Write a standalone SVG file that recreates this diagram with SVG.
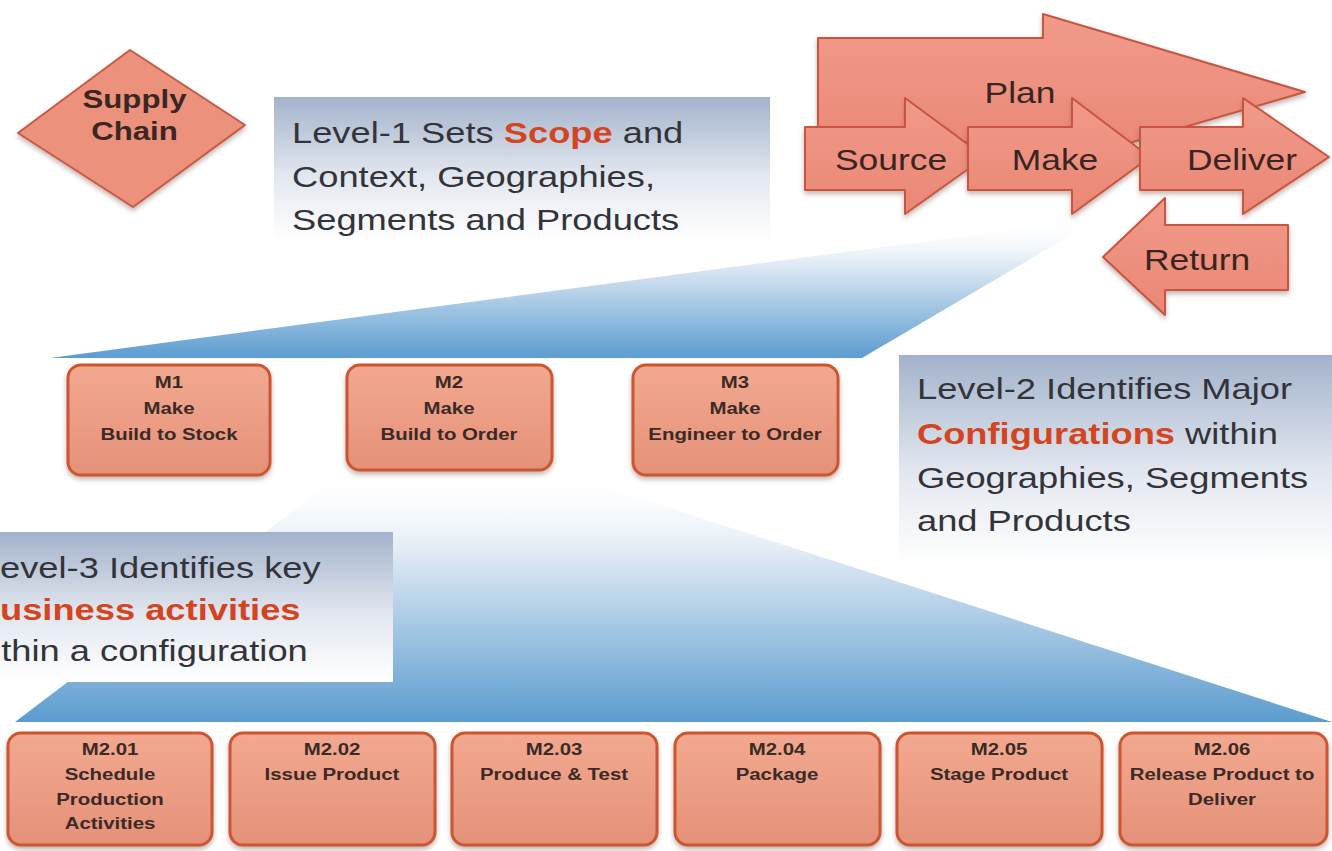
<svg xmlns="http://www.w3.org/2000/svg" width="1332" height="851" viewBox="0 0 1332 851">
<defs>
<linearGradient id="wedge" x1="0" y1="0" x2="0" y2="1">
<stop offset="0" stop-color="#ffffff" stop-opacity="0"/>
<stop offset="0.35" stop-color="#dbe7f3"/>
<stop offset="1" stop-color="#5b9ccf"/>
</linearGradient>
<linearGradient id="note" x1="0" y1="0" x2="0" y2="1">
<stop offset="0" stop-color="#a3b2cb"/>
<stop offset="0.55" stop-color="#e2e7ef"/>
<stop offset="1" stop-color="#ffffff"/>
</linearGradient>
<linearGradient id="box" x1="0" y1="0" x2="0" y2="1">
<stop offset="0" stop-color="#f2a98f"/>
<stop offset="1" stop-color="#e5917a"/>
</linearGradient>
<linearGradient id="arr" x1="0" y1="0" x2="0" y2="1">
<stop offset="0" stop-color="#f19a8a"/>
<stop offset="1" stop-color="#ea8775"/>
</linearGradient>
<filter id="sh" x="-10%" y="-10%" width="120%" height="130%">
<feDropShadow dx="0" dy="3" stdDeviation="2.5" flood-color="#7a5a50" flood-opacity="0.45"/>
</filter>
<style>
.box{fill:url(#box);stroke:#cc5530;stroke-width:3;filter:url(#sh)}
.arrow{fill:url(#arr);stroke:#c9553f;stroke-width:2;stroke-linejoin:round;filter:url(#sh)}
.bt{font-family:"Liberation Sans",Arial,sans-serif;font-weight:bold;font-size:17px;fill:#3b2a26;text-anchor:middle}
.big{font-family:"Liberation Sans",Arial,sans-serif;font-size:30px;fill:#33343a}
.at{font-family:"Liberation Sans",Arial,sans-serif;font-size:30px;fill:#3a2522;text-anchor:middle}
.hl{font-weight:bold;fill:#d4451f}
.sc{font-family:"Liberation Sans",Arial,sans-serif;font-weight:bold;font-size:26px;fill:#3a2622;text-anchor:middle}
</style>
</defs>
<rect width="1332" height="851" fill="#ffffff"/>

<g id="wedges">
<polygon points="50,358 1100,218 862,358" fill="url(#wedge)"/>
<polygon points="347,470 552,470 1332,722 15,722" fill="url(#wedge)"/>
</g>

<g id="supply-chain">
<polygon points="130,50 245,125 133,207 18,133" fill="#ec917c" stroke="#c65a44" stroke-width="2" stroke-linejoin="round" filter="url(#sh)"/>
<g transform="translate(134.5,0) scale(1.2,1)">
<text class="sc" x="0" y="108">Supply</text>
<text class="sc" x="0" y="140">Chain</text>
</g>
</g>

<g id="level1-note">
<rect x="274" y="97" width="496" height="143" fill="url(#note)"/>
<g transform="translate(292,0) scale(1.21,1)">
<text class="big" x="0" y="143">Level-1 Sets <tspan class="hl">Scope</tspan> and</text>
<text class="big" x="0" y="187">Context, Geographies,</text>
<text class="big" x="0" y="230">Segments and Products</text>
</g>
</g>

<g id="plan">
<polygon class="arrow" points="818,38 1043,38 1043,14 1305,92 1043,168 1043,142 818,142"/>
<g transform="translate(1020,0) scale(1.18,1)"><text class="at" x="0" y="103">Plan</text></g>
</g>
<g id="source">
<polygon class="arrow" points="805,127 905,127 905,98 985,157 905,214 905,190 805,190"/>
<g transform="translate(891,0) scale(1.18,1)"><text class="at" x="0" y="170">Source</text></g>
</g>
<g id="make">
<polygon class="arrow" points="968,127 1072,127 1072,98 1150,157 1072,214 1072,190 968,190"/>
<g transform="translate(1055,0) scale(1.18,1)"><text class="at" x="0" y="170">Make</text></g>
</g>
<g id="deliver">
<polygon class="arrow" points="1140,127 1243,127 1243,98 1329,157 1243,214 1243,190 1140,190"/>
<g transform="translate(1242,0) scale(1.18,1)"><text class="at" x="0" y="170">Deliver</text></g>
</g>
<g id="return">
<polygon class="arrow" points="1288,225 1165,225 1165,198 1103,257 1165,315 1165,290 1288,290"/>
<g transform="translate(1197,0) scale(1.18,1)"><text class="at" x="0" y="270">Return</text></g>
</g>

<g id="m1">
<rect class="box" x="68" y="365" width="202" height="110" rx="13"/>
<g transform="translate(169,0) scale(1.2,1)">
<text class="bt" x="0" y="388">M1</text>
<text class="bt" x="0" y="414">Make</text>
<text class="bt" x="0" y="440">Build to Stock</text>
</g>
</g>
<g id="m2">
<rect class="box" x="347" y="365" width="205" height="105" rx="13"/>
<g transform="translate(449,0) scale(1.2,1)">
<text class="bt" x="0" y="388">M2</text>
<text class="bt" x="0" y="414">Make</text>
<text class="bt" x="0" y="440">Build to Order</text>
</g>
</g>
<g id="m3">
<rect class="box" x="633" y="365" width="205" height="110" rx="13"/>
<g transform="translate(735,0) scale(1.2,1)">
<text class="bt" x="0" y="388">M3</text>
<text class="bt" x="0" y="414">Make</text>
<text class="bt" x="0" y="440">Engineer to Order</text>
</g>
</g>

<g id="level2-note">
<rect x="899" y="355" width="433" height="210" fill="url(#note)"/>
<g transform="translate(917,0) scale(1.21,1)">
<text class="big" x="0" y="399">Level-2 Identifies Major</text>
<text class="big" x="0" y="444"><tspan class="hl">Configurations</tspan> within</text>
<text class="big" x="0" y="488">Geographies, Segments</text>
<text class="big" x="0" y="531">and Products</text>
</g>
</g>

<g id="level3-note">
<rect x="0" y="532" width="393" height="150" fill="url(#note)"/>
<g transform="translate(0,0) scale(1.21,1)">
<text class="big" x="0" y="578">evel-3 Identifies key</text>
<text class="big" x="0" y="620"><tspan class="hl">usiness activities</tspan></text>
<text class="big" x="1" y="661">thin a configuration</text>
</g>
</g>

<g id="m201">
<rect class="box" x="8" y="733" width="204" height="112" rx="13"/>
<g transform="translate(110,0) scale(1.2,1)">
<text class="bt" x="0" y="755">M2.01</text>
<text class="bt" x="0" y="780">Schedule</text>
<text class="bt" x="0" y="805">Production</text>
<text class="bt" x="0" y="829">Activities</text>
</g>
</g>
<g id="m202">
<rect class="box" x="230" y="733" width="205" height="112" rx="13"/>
<g transform="translate(332,0) scale(1.2,1)">
<text class="bt" x="0" y="755">M2.02</text>
<text class="bt" x="0" y="780">Issue Product</text>
</g>
</g>
<g id="m203">
<rect class="box" x="452" y="733" width="205" height="112" rx="13"/>
<g transform="translate(554,0) scale(1.2,1)">
<text class="bt" x="0" y="755">M2.03</text>
<text class="bt" x="0" y="780">Produce &amp; Test</text>
</g>
</g>
<g id="m204">
<rect class="box" x="675" y="733" width="205" height="112" rx="13"/>
<g transform="translate(777,0) scale(1.2,1)">
<text class="bt" x="0" y="755">M2.04</text>
<text class="bt" x="0" y="780">Package</text>
</g>
</g>
<g id="m205">
<rect class="box" x="897" y="733" width="205" height="112" rx="13"/>
<g transform="translate(999,0) scale(1.2,1)">
<text class="bt" x="0" y="755">M2.05</text>
<text class="bt" x="0" y="780">Stage Product</text>
</g>
</g>
<g id="m206">
<rect class="box" x="1120" y="733" width="207" height="112" rx="13"/>
<g transform="translate(1222,0) scale(1.2,1)">
<text class="bt" x="0" y="755">M2.06</text>
<text class="bt" x="0" y="780">Release Product to</text>
<text class="bt" x="0" y="805">Deliver</text>
</g>
</g>
<g id="connectors"></g>
</svg>
